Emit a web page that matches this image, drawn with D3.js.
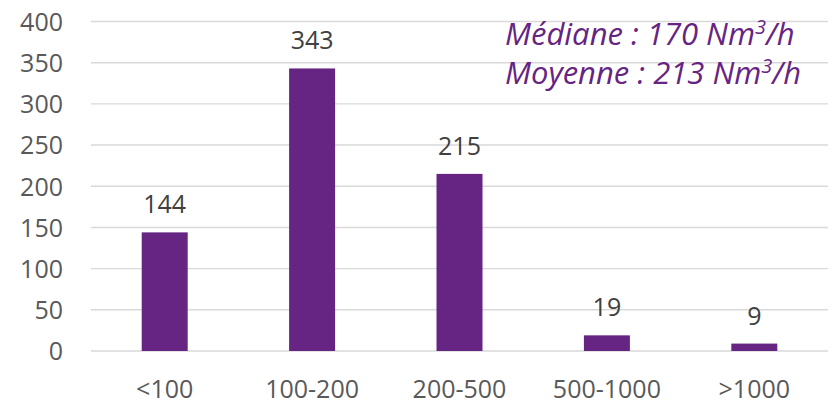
<!DOCTYPE html>
<html><head><meta charset="utf-8">
<script src="https://cdn.jsdelivr.net/npm/d3@7"></script>
<style>body{margin:0;background:#fff}svg{display:block}</style>
</head><body>
<svg id="c" width="837" height="412"></svg>
<script>
const categories = ["<100", "100-200", "200-500", "500-1000", ">1000"];
const values = [144, 343, 215, 19, 9];
const yTicks = [0, 50, 100, 150, 200, 250, 300, 350, 400];
const notes = [["Médiane : 170 Nm", "3", "/h"], ["Moyenne : 213 Nm", "3", "/h"]];

const W = 837, H = 412;
const m = {left: 91, right: 9, top: 21.5, bottom: 61};
const svg = d3.select("#c");
const font = "'Open Sans', 'Noto Sans', sans-serif";
const x = d3.scaleBand().domain(categories).range([m.left, W - m.right]).paddingInner(0.688).paddingOuter(0.344);
const y = d3.scaleLinear().domain([0, 400]).range([H - m.bottom, m.top]);

// grid
svg.append("g").selectAll("line").data(yTicks).join("line")
  .attr("x1", m.left).attr("x2", W - m.right)
  .attr("y1", d => y(d)).attr("y2", d => y(d))
  .attr("stroke", "#d9d9d9").attr("stroke-width", 1.4);

// y axis labels
const ya = svg.append("g").attr("transform", `translate(${m.left - 28},0)`)
  .call(d3.axisLeft(y).tickValues(yTicks).tickSize(0).tickPadding(0));
ya.select(".domain").remove();
ya.selectAll("text").attr("font-family", font).attr("font-size", 25).attr("fill", "#595959").attr("dy", "0.35em");

// x axis labels
const xa = svg.append("g").attr("transform", `translate(0,${H - m.bottom})`)
  .call(d3.axisBottom(x).tickSize(0).tickPadding(29));
xa.select(".domain").remove();
xa.selectAll("text").attr("font-family", font).attr("font-size", 25).attr("fill", "#595959");

// bars
const data = categories.map((c, i) => ({c, v: values[i]}));
svg.append("g").selectAll("rect").data(data).join("rect")
  .attr("x", d => x(d.c)).attr("width", x.bandwidth())
  .attr("y", d => y(d.v)).attr("height", d => y(0) - y(d.v))
  .attr("fill", "#662483");

// value labels
svg.append("g").selectAll("text").data(data).join("text")
  .attr("x", d => x(d.c) + x.bandwidth() / 2)
  .attr("y", d => y(d.v) - 19)
  .attr("text-anchor", "middle")
  .attr("font-family", font).attr("font-size", 25).attr("fill", "#404040")
  .text(d => d.v);

// annotations
const ann = svg.append("g");
notes.forEach((n, i) => {
  const t = ann.append("text")
    .attr("x", 505).attr("y", 45 + i * 39)
    .attr("font-family", font).attr("font-size", 31).attr("font-style", "italic")
    .attr("fill", "#662483");
  t.append("tspan").text(n[0]);
  t.append("tspan").attr("font-size", 20).attr("dy", -11).text(n[1]);
  t.append("tspan").attr("dy", 11).text(n[2]);
});
</script>
</body></html>
